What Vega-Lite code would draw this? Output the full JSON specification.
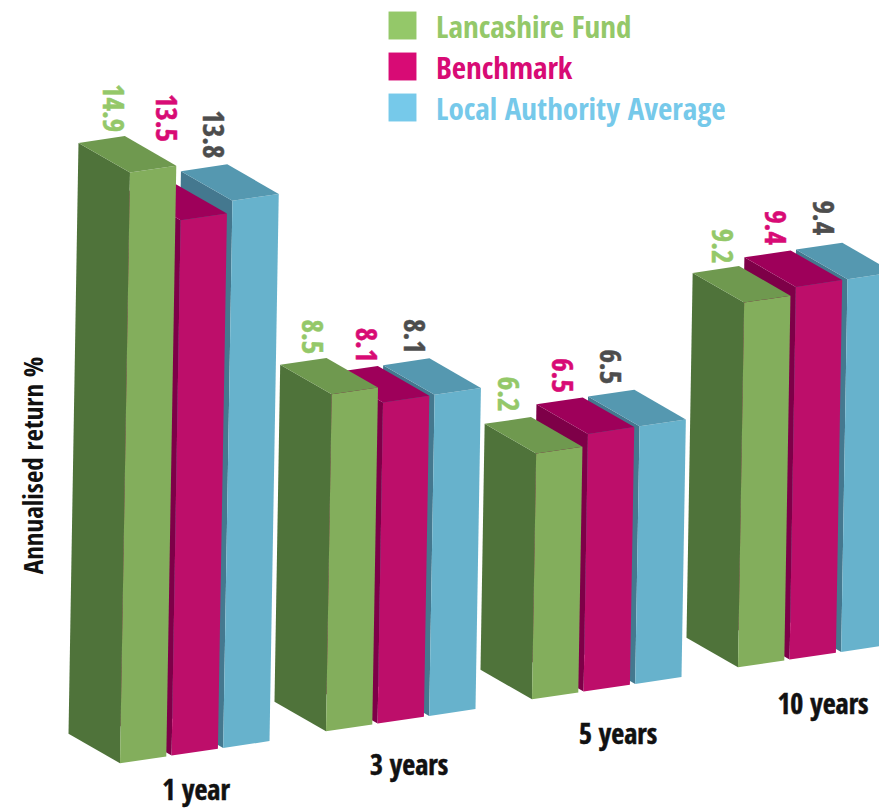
{
  "$schema": "https://vega.github.io/schema/vega-lite/v6.json",
  "width": 879,
  "height": 808,
  "padding": 0,
  "autosize": {"type": "none"},
  "background": "white",
  "config": {"view": {"stroke": null}},
  "data": {
    "values": [
      {"period": "10 years", "series": "Local Authority Average", "value": 9.4},
      {"period": "10 years", "series": "Benchmark", "value": 9.4},
      {"period": "10 years", "series": "Lancashire Fund", "value": 9.2},
      {"period": "5 years", "series": "Local Authority Average", "value": 6.5},
      {"period": "5 years", "series": "Benchmark", "value": 6.5},
      {"period": "5 years", "series": "Lancashire Fund", "value": 6.2},
      {"period": "3 years", "series": "Local Authority Average", "value": 8.1},
      {"period": "3 years", "series": "Benchmark", "value": 8.1},
      {"period": "3 years", "series": "Lancashire Fund", "value": 8.5},
      {"period": "1 year", "series": "Local Authority Average", "value": 13.8},
      {"period": "1 year", "series": "Benchmark", "value": 13.5},
      {"period": "1 year", "series": "Lancashire Fund", "value": 14.9}
    ]
  },
  "transform": [
    {"calculate": "indexof(['1 year','3 years','5 years','10 years'], datum.period)", "as": "g"},
    {"calculate": "indexof(['Lancashire Fund','Benchmark','Local Authority Average'], datum.series)", "as": "s"},
    {"calculate": "120 + 206 * datum.g + 51.6 * datum.s", "as": "baseX"},
    {"calculate": "763.3 - 32 * datum.g - 7.7 * datum.s", "as": "baseY"},
    {"calculate": "0.67 * datum.value", "as": "riseX"},
    {"calculate": "39.65 * datum.value", "as": "riseY"}
  ],
  "resolve": {"scale": {"color": "independent", "stroke": "independent"}},
  "layer": [
    {
      "transform": [
        {"calculate": "['left','front','top']", "as": "face"},
        {"flatten": ["face"]},
        {"calculate": "[0,1,2,3]", "as": "corner"},
        {"flatten": ["corner"]},
        {"calculate": "{left:[0,0,0,0],front:[0,1,1,0],top:[0,1,1,0]}[datum.face][datum.corner]", "as": "u"},
        {"calculate": "{left:[0,1,1,0],front:[0,0,0,0],top:[0,0,1,1]}[datum.face][datum.corner]", "as": "v"},
        {"calculate": "{left:[0,0,1,1],front:[0,0,1,1],top:[1,1,1,1]}[datum.face][datum.corner]", "as": "z"},
        {"calculate": "datum.baseX + 46.3 * datum.u - 51.5 * datum.v + datum.riseX * datum.z", "as": "px"},
        {"calculate": "datum.baseY - 6.8 * datum.u - 29.6 * datum.v - datum.riseY * datum.z", "as": "py"},
        {"calculate": "datum.series + ' ' + datum.face", "as": "shade"},
        {"calculate": "datum.period + ' ' + datum.series + ' ' + datum.face", "as": "polygon"}
      ],
      "mark": {"type": "line", "filled": true, "clip": true},
      "encoding": {
        "x": {"field": "px", "type": "quantitative", "scale": {"domain": [0, 879], "nice": false, "zero": false}, "axis": null},
        "y": {
          "field": "py",
          "type": "quantitative",
          "scale": {"domain": [808, 0], "nice": false, "zero": false},
          "axis": {
            "title": "Annualised return %",
            "domain": false,
            "ticks": false,
            "labels": false,
            "grid": false,
            "titleFont": "Open Sans Condensed",
            "titleFontWeight": "bold",
            "titleFontSize": 27,
            "titleColor": "#111111",
            "titleAngle": -90,
            "titleAlign": "center",
            "titleBaseline": "alphabetic",
            "titleX": 42,
            "titleY": 465
          }
        },
        "order": {"field": "corner", "type": "quantitative"},
        "detail": {"field": "polygon"},
        "color": {
          "field": "shade",
          "type": "nominal",
          "legend": null,
          "scale": {
            "domain": [
              "Lancashire Fund left", "Lancashire Fund front", "Lancashire Fund top",
              "Benchmark left", "Benchmark front", "Benchmark top",
              "Local Authority Average left", "Local Authority Average front", "Local Authority Average top"
            ],
            "range": [
              "#4f733a", "#83ae5c", "#6f994f",
              "#7e0048", "#bd0e6a", "#9e005a",
              "#44788f", "#67b2cc", "#5598b0"
            ]
          }
        }
      }
    },
    {
      "transform": [
        {"calculate": "[[-13,-10,-15],[-15,-13,-16],[-24,-22,-25],[-18,-17,-20]][datum.g][datum.s]", "as": "nudgeX"},
        {"calculate": "[[-28,-66,-30],[-21,-21,-22],[-23,-22,-23],[-20,-23,-25]][datum.g][datum.s]", "as": "nudgeY"},
        {"calculate": "datum.baseX + datum.riseX - 5.2 + datum.nudgeX", "as": "labelX"},
        {"calculate": "datum.baseY - datum.riseY - 36.4 + datum.nudgeY", "as": "labelY"}
      ],
      "mark": {
        "type": "text",
        "angle": 90,
        "align": "center",
        "baseline": "middle",
        "font": "Open Sans Condensed",
        "fontWeight": "bold",
        "fontSize": 29,
        "strokeWidth": 0.5
      },
      "encoding": {
        "x": {"field": "labelX", "type": "quantitative", "axis": null},
        "y": {"field": "labelY", "type": "quantitative"},
        "text": {"field": "value", "type": "quantitative", "format": ".1f"},
        "color": {
          "field": "series",
          "type": "nominal",
          "legend": null,
          "scale": {
            "domain": ["Lancashire Fund", "Benchmark", "Local Authority Average"],
            "range": ["#94c869", "#d80b75", "#4d4d4d"]
          }
        },
        "stroke": {
          "field": "series",
          "type": "nominal",
          "legend": null,
          "scale": {
            "domain": ["Lancashire Fund", "Benchmark", "Local Authority Average"],
            "range": ["#94c869", "#d80b75", "#4d4d4d"]
          }
        }
      }
    },
    {
      "transform": [
        {"filter": "datum.s === 0"},
        {"calculate": "[196,409,618,823][datum.g]", "as": "labelX"},
        {"calculate": "[792,767,736,706][datum.g]", "as": "labelY"}
      ],
      "mark": {
        "type": "text",
        "align": "center",
        "baseline": "middle",
        "font": "Open Sans Condensed",
        "fontWeight": "bold",
        "fontSize": 28,
        "color": "#111111",
        "stroke": "#111111",
        "strokeWidth": 0.5
      },
      "encoding": {
        "x": {"field": "labelX", "type": "quantitative", "axis": null},
        "y": {"field": "labelY", "type": "quantitative"},
        "text": {"field": "period", "type": "nominal"}
      }
    },
    {
      "mark": {"type": "point", "filled": true, "size": 0, "opacity": 0},
      "encoding": {
        "x": {"field": "baseX", "type": "quantitative", "axis": null},
        "y": {"field": "baseY", "type": "quantitative"},
        "color": {
          "field": "series",
          "type": "nominal",
          "scale": {
            "domain": ["Lancashire Fund", "Benchmark", "Local Authority Average"],
            "range": ["#94c869", "#d80b75", "#76c9ea"]
          },
          "legend": {
            "orient": "none",
            "legendX": 387,
            "legendY": 10,
            "title": null,
            "symbolType": "square",
            "symbolSize": 780,
            "symbolOpacity": 1,
            "symbolStrokeWidth": 0,
            "rowPadding": 7,
            "labelFont": "Open Sans Condensed",
            "labelFontWeight": "bold",
            "labelFontSize": 31,
            "labelOffset": 18,
            "labelLimit": 400,
            "labelColor": {"expr": "{'Lancashire Fund':'#94c869','Benchmark':'#d80b75','Local Authority Average':'#76c9ea'}[datum.value]"},
            "encoding": {"labels": {"dy": {"value": 3}}}
          }
        }
      }
    }
  ]
}
